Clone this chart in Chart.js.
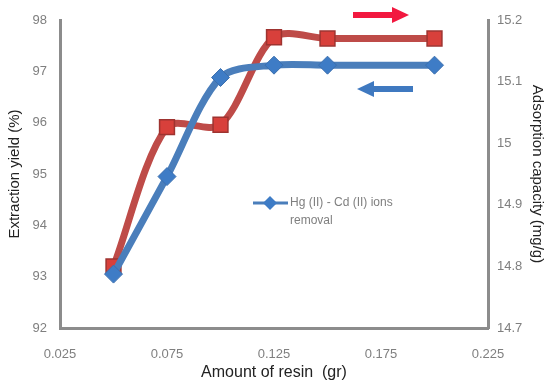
<!DOCTYPE html>
<html>
<head>
<meta charset="utf-8">
<script src="https://cdn.jsdelivr.net/npm/chart.js@4"></script>
<style>
  html, body { margin: 0; padding: 0; background: #fff; }
  #wrap { width: 546px; height: 381px; position: relative; }
</style>
</head>
<body>
<div id="wrap"><canvas id="c" width="546" height="381"></canvas></div>
<script>
// Resin amount (gr)
const resinAmount = [0.05, 0.075, 0.1, 0.125, 0.15, 0.2];
// Extraction yield (%) – left axis
const extractionYield = [93.05, 94.95, 96.88, 97.12, 97.12, 97.12];
// Adsorption capacity (mg/g) – right axis
const adsorptionCapacity = [14.80, 15.026, 15.03, 15.172, 15.17, 15.17];

const xTickValues = [0.025, 0.075, 0.125, 0.175, 0.225];
const xTickLabels = ['0.025', '0.075', '0.125', '0.175', '0.225'];
const yTickValues = [92, 93, 94, 95, 96, 97, 98];
const yTickLabels = ['92', '93', '94', '95', '96', '97', '98'];
const y1TickValues = [14.7, 14.8, 14.9, 15.0, 15.1, 15.2];
const y1TickLabels = ['14.7', '14.8', '14.9', '15', '15.1', '15.2'];

const seriesLabel = 'Hg (II) - Cd (II) ions removal';

const BLUE = '#4A7EBB';
const RED = '#BE4B48';
const AXIS = '#8C8C8C';
const FONT = "'Liberation Sans', 'DejaVu Sans', sans-serif";

function setTicks(values) {
  return function (scale) { scale.ticks = values.map(v => ({ value: v })); };
}
function labelFrom(values, labels) {
  return function (v) {
    const i = values.findIndex(t => Math.abs(t - v) < 1e-9);
    return i >= 0 ? labels[i] : '';
  };
}

// Legend entry inside the plot and the two direction arrows
const overlay = {
  id: 'overlay',
  afterDatasetsDraw(chart) {
    const ctx = chart.ctx;
    ctx.save();
    // legend entry
    const ly = 203;
    ctx.strokeStyle = BLUE;
    ctx.lineWidth = 3;
    ctx.beginPath(); ctx.moveTo(253, ly); ctx.lineTo(288, ly); ctx.stroke();
    ctx.fillStyle = '#3E7CC6';
    ctx.beginPath();
    ctx.moveTo(270, ly - 7); ctx.lineTo(277, ly); ctx.lineTo(270, ly + 7); ctx.lineTo(263, ly);
    ctx.closePath(); ctx.fill();
    ctx.fillStyle = '#7F7F7F';
    ctx.font = '12px ' + FONT;
    ctx.textBaseline = 'middle';
    ctx.textAlign = 'left';
    const words = seriesLabel.split(' ');
    ctx.fillText(words.slice(0, 6).join(' '), 290, ly);
    ctx.fillText(words.slice(6).join(' '), 290, ly + 18);

    // red arrow (points right, to the right axis)
    ctx.fillStyle = '#F2183F';
    ctx.fillRect(353, 12, 40, 6);
    ctx.beginPath();
    ctx.moveTo(392, 7); ctx.lineTo(409, 15); ctx.lineTo(392, 23); ctx.closePath(); ctx.fill();
    // blue arrow (points left, to the left axis)
    ctx.fillStyle = '#3F79C0';
    ctx.fillRect(373, 86, 40, 6);
    ctx.beginPath();
    ctx.moveTo(374, 81); ctx.lineTo(357, 89); ctx.lineTo(374, 97); ctx.closePath(); ctx.fill();
    ctx.restore();
  }
};

new Chart(document.getElementById('c'), {
  type: 'line',
  data: {
    datasets: [
      {
        label: seriesLabel,
        data: resinAmount.map((x, i) => ({ x, y: extractionYield[i] })),
        yAxisID: 'y',
        borderColor: BLUE,
        borderWidth: 7,
        tension: 0.3,
        pointStyle: 'rectRot',
        pointRadius: 9,
        pointBackgroundColor: '#3E7CC6',
        pointBorderColor: '#3B6FAE',
        pointBorderWidth: 1
      },
      {
        label: 'Adsorption capacity',
        data: resinAmount.map((x, i) => ({ x, y: adsorptionCapacity[i] })),
        yAxisID: 'y1',
        borderColor: RED,
        borderWidth: 7,
        tension: 0.3,
        pointStyle: 'rect',
        pointRadius: 10.5,
        pointBackgroundColor: '#D8403B',
        pointBorderColor: '#9E3330',
        pointBorderWidth: 1.5
      }
    ]
  },
  options: {
    responsive: false,
    animation: false,
    layout: { padding: { top: 20, left: 0, right: 0, bottom: 0 } },
    plugins: { legend: { display: false }, tooltip: { enabled: false } },
    scales: {
      x: {
        type: 'linear',
        min: 0.025, max: 0.225,
        afterBuildTicks: setTicks(xTickValues),
        afterFit(s) { s.height = 53; },
        grid: { display: false, drawTicks: true, tickLength: 5, tickColor: AXIS, tickWidth: 3 },
        border: { color: AXIS, width: 3 },
        ticks: { callback: labelFrom(xTickValues, xTickLabels), color: '#7F7F7F', font: { family: FONT, size: 13 }, padding: 14, maxRotation: 0 },
        title: { display: true, text: 'Amount of resin  (gr)', color: '#222', font: { family: FONT, size: 16, lineHeight: 1.0 }, padding: { top: 0, bottom: 0 } }
      },
      y: {
        position: 'left',
        min: 92, max: 98,
        afterBuildTicks: setTicks(yTickValues),
        afterFit(s) { s.width = 60; },
        grid: { display: false, drawTicks: true, tickLength: 5, tickColor: AXIS, tickWidth: 3 },
        border: { color: AXIS, width: 3 },
        ticks: { callback: labelFrom(yTickValues, yTickLabels), color: '#7F7F7F', font: { family: FONT, size: 13 }, padding: 8 },
        title: { display: true, text: 'Extraction yield (%)', color: '#222', font: { family: FONT, size: 15 }, padding: { top: 6, bottom: 0 } }
      },
      y1: {
        position: 'right',
        min: 14.7, max: 15.2,
        afterBuildTicks: setTicks(y1TickValues),
        afterFit(s) { s.width = 58; },
        grid: { display: false, drawTicks: true, tickLength: 4, tickColor: AXIS, tickWidth: 2 },
        border: { color: AXIS, width: 3 },
        ticks: { callback: labelFrom(y1TickValues, y1TickLabels), color: '#7F7F7F', font: { family: FONT, size: 13 }, padding: 5 },
        title: { display: true, text: 'Adsorption capacity (mg/g)', color: '#222', font: { family: FONT, size: 15 }, padding: { top: 0, bottom: 2 } }
      }
    }
  },
  plugins: [overlay]
});
</script>
</body>
</html>
